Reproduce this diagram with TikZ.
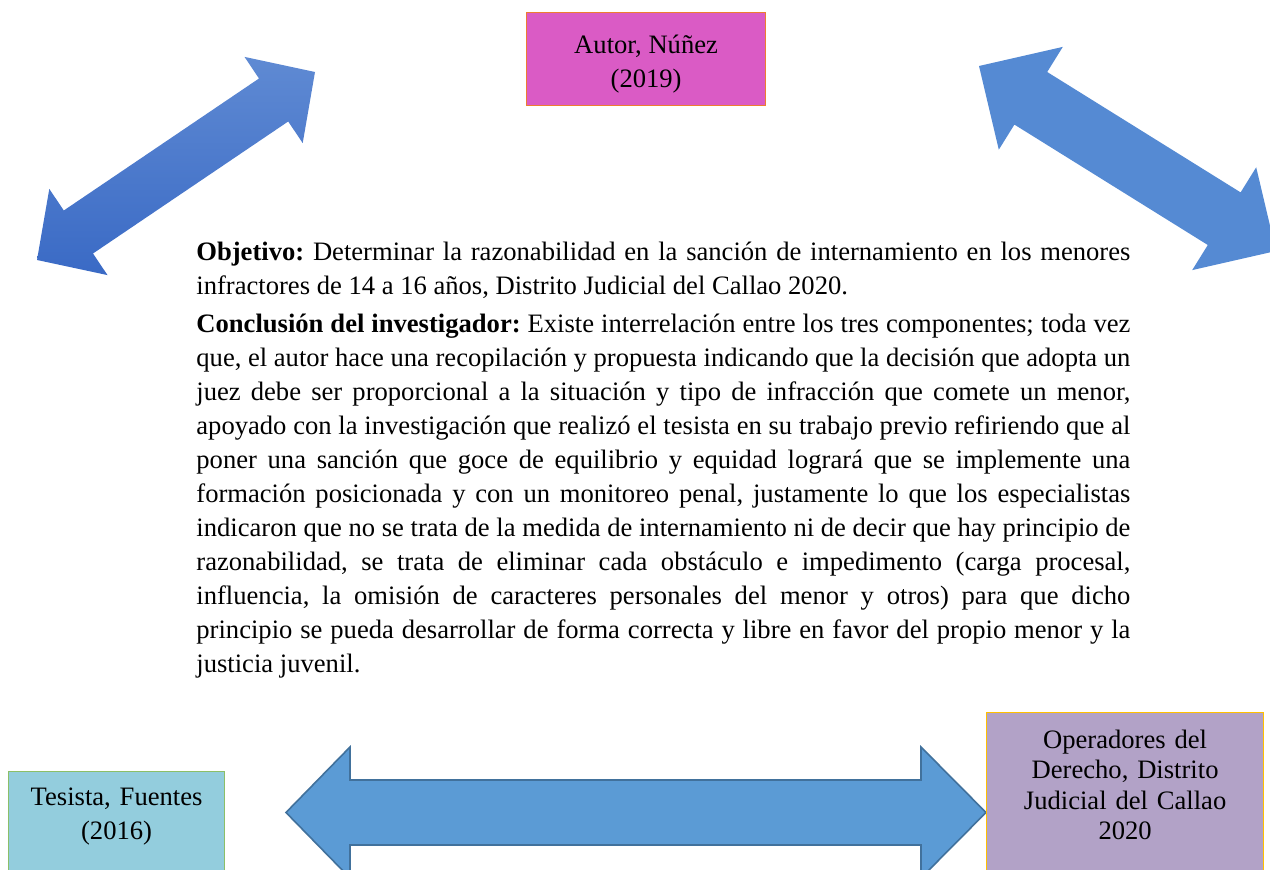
\documentclass[tikz,border=0pt]{standalone}
\usepackage{fontspec}
\setmainfont{Liberation Serif}
\usepackage{xcolor}
\usepackage{tikz}
\definecolor{rosa}{HTML}{DA5BC5}
\definecolor{naranja}{HTML}{ED7D31}
\definecolor{celeste}{HTML}{93CDDD}
\definecolor{verde}{HTML}{8CBF68}
\definecolor{lila}{HTML}{B2A2C7}
\definecolor{oro}{HTML}{FFC000}
\definecolor{azul}{HTML}{5B9BD5}
\definecolor{azulborde}{HTML}{41719C}
\definecolor{azuldiag}{HTML}{558AD3}
\definecolor{azulclaro}{HTML}{5F8AD3}
\definecolor{azuloscuro}{HTML}{3A6AC5}

\begin{document}
\begin{tikzpicture}[x=0.5pt,y=-0.5pt,font=\fontsize{13.3}{17}\selectfont\frenchspacing]
	\useasboundingbox (0,0) rectangle (1270,870);

	% flechas
	\shade[top color=azulclaro,bottom color=azuloscuro] (315,72) -- (244.5,56.9) -- (259,78.5) -- (63.8,210.5) -- (49.3,188.9) -- (37,260)
		-- (107.5,275.1) -- (93,253.5) -- (288.2,121.5) -- (302.7,143.1) -- cycle;
	\fill[azuldiag] (979,66) -- (1062.8,46.9) -- (1047.2,72) -- (1240.6,192.4) -- (1256.2,167.3) -- (1276,251)
		-- (1192.2,270.1) -- (1207.8,245) -- (1014.4,124.6) -- (998.8,149.7) -- cycle;
	\filldraw[fill=azul,draw=azulborde,line width=0.8pt] (286,812.5) -- (350,747) -- (350,780) -- (921,780) -- (921,747) -- (986,812.5)
		-- (921,878) -- (921,845) -- (350,845) -- (350,878) -- cycle;

	\node[draw=naranja,fill=rosa,line width=0.6pt,anchor=north west,minimum width=119.5pt,text height=37.5pt,text depth=9pt,
		align=center,inner sep=0pt,name=autor] at (526,12) {Autor, Núñez\\(2019)};
	\node[draw=verde,fill=celeste,line width=0.6pt,anchor=north west,text width=100pt,inner xsep=4pt,inner ysep=4pt,
		text height=13pt,text depth=40pt,align=center,name=tesista] at (8,771) {Tesista, Fuentes\\(2016)};
	\node[draw=oro,fill=lila,line width=0.6pt,anchor=north west,text width=130.5pt,inner xsep=4pt,inner ysep=4pt,
		text height=14pt,text depth=70pt,align=center,font=\fontsize{13.3}{15.2}\selectfont,name=operadores] at (986,712)
		{Operadores del\\Derecho, Distrito\\Judicial del Callao\\2020};

	\node[anchor=base west,text width=467pt,align=justify,inner sep=0pt,name=texto] at (196,261)
		{\setlength{\parskip}{2pt}\textbf{Objetivo:} Determinar la razonabilidad en la sanción de internamiento en los menores\linebreak
		infractores de 14 a 16 años, Distrito Judicial del Callao 2020.\par
		\textbf{Conclusión del investigador:} Existe interrelación entre los tres componentes; toda vez\linebreak
		que, el autor hace una recopilación y propuesta indicando que la decisión que adopta un\linebreak
		juez debe ser proporcional a la situación y tipo de infracción que comete un menor,\linebreak
		apoyado con la investigación que realizó el tesista en su trabajo previo refiriendo que al\linebreak
		poner una sanción que goce de equilibrio y equidad logrará que se implemente una\linebreak
		formación posicionada y con un monitoreo penal, justamente lo que los especialistas\linebreak
		indicaron que no se trata de la medida de internamiento ni de decir que hay principio de\linebreak
		razonabilidad, se trata de eliminar cada obstáculo e impedimento (carga procesal,\linebreak
		influencia, la omisión de caracteres personales del menor y otros) para que dicho\linebreak
		principio se pueda desarrollar de forma correcta y libre en favor del propio menor y la\linebreak
		justicia juvenil.};
\end{tikzpicture}
\end{document}
